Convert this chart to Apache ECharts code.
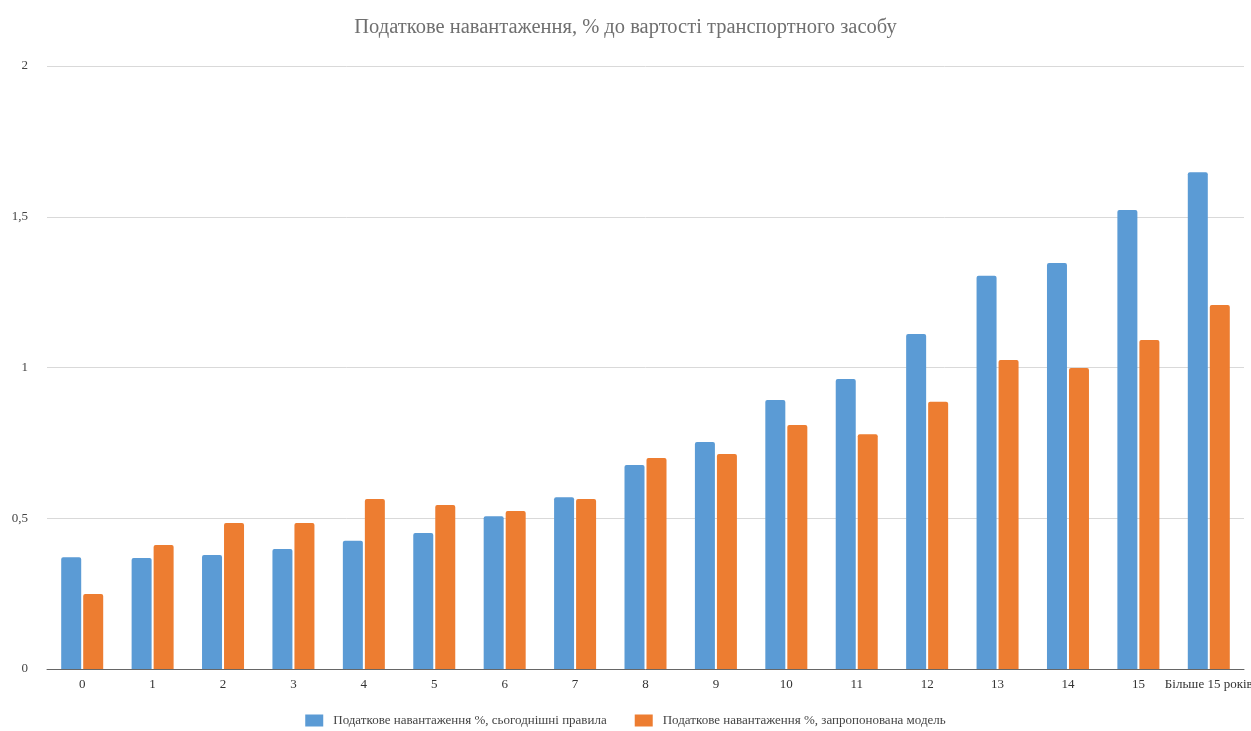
<!DOCTYPE html>
<html>
<head>
    <meta charset="utf-8">
    <title>Податкове навантаження</title>
    <style type="text/css">
        * { margin: 0; padding: 0; }
        html, body { background: #fff; }
        #main { width: 1251px; height: 731px; }
    </style>
</head>
<body>
<div id="main"></div>
<script src="https://cdn.jsdelivr.net/npm/echarts@6/dist/echarts.min.js"></script>
<script type="text/javascript">
    // категорії - вік транспортного засобу
    var categories = ['0', '1', '2', '3', '4', '5', '6', '7', '8', '9', '10', '11', '12', '13', '14', '15', 'Більше 15 років'];
    // сьогоднішні правила
    var currentRules = [0.371, 0.368, 0.378, 0.398, 0.425, 0.451, 0.507, 0.570, 0.677, 0.753, 0.892, 0.962, 1.111, 1.304, 1.347, 1.522, 1.648];
    // запропонована модель
    var proposedModel = [0.249, 0.411, 0.484, 0.484, 0.564, 0.544, 0.524, 0.564, 0.700, 0.713, 0.809, 0.779, 0.886, 1.025, 0.998, 1.091, 1.207];
    var seriesNames = ['Податкове навантаження %, сьогоднішні правила', 'Податкове навантаження %, запропонована модель'];

    var serif = '"Liberation Serif", "DejaVu Serif", serif';
    var myChart = echarts.init(document.getElementById('main'));

    var option = {
        animation: false,
        title: {
            text: 'Податкове навантаження, % до вартості транспортного засобу',
            left: 'center',
            top: 12,
            textStyle: { fontFamily: serif, fontSize: 20.5, fontWeight: 'normal', color: '#6f6f6f' }
        },
        legend: {
            bottom: -1,
            left: 'center',
            itemWidth: 18,
            itemHeight: 12,
            itemGap: 28,
            icon: 'rect',
            textStyle: { fontFamily: serif, fontSize: 13, color: '#444', padding: [0, 0, 0, 5] },
            data: seriesNames
        },
        grid: {
            left: 47,
            right: 7,
            top: 66,
            bottom: 62,
            containLabel: false,
            outerBoundsMode: 'none'
        },
        xAxis: {
            type: 'category',
            data: categories,
            axisTick: { show: false },
            axisLine: { lineStyle: { color: '#666', width: 1 } },
            axisLabel: { fontFamily: serif, fontSize: 13, color: '#333', margin: 9, interval: 0 }
        },
        yAxis: {
            type: 'value',
            min: 0,
            max: 2,
            interval: 0.5,
            axisLine: { show: false },
            axisTick: { show: false },
            splitLine: { lineStyle: { color: '#d9d9d9', width: 1 } },
            axisLabel: {
                fontFamily: serif, fontSize: 13, color: '#444', margin: 19,
                formatter: function (v) { return String(v).replace('.', ','); }
            }
        },
        series: [
            {
                name: seriesNames[0],
                type: 'bar',
                data: currentRules,
                barWidth: 20,
                barGap: '10%',
                itemStyle: { color: '#5b9bd5', borderRadius: [2, 2, 0, 0] }
            },
            {
                name: seriesNames[1],
                type: 'bar',
                data: proposedModel,
                barWidth: 20,
                barGap: '10%',
                itemStyle: { color: '#ed7d31', borderRadius: [2, 2, 0, 0] }
            }
        ]
    };

    myChart.setOption(option);
</script>
</body>
</html>
